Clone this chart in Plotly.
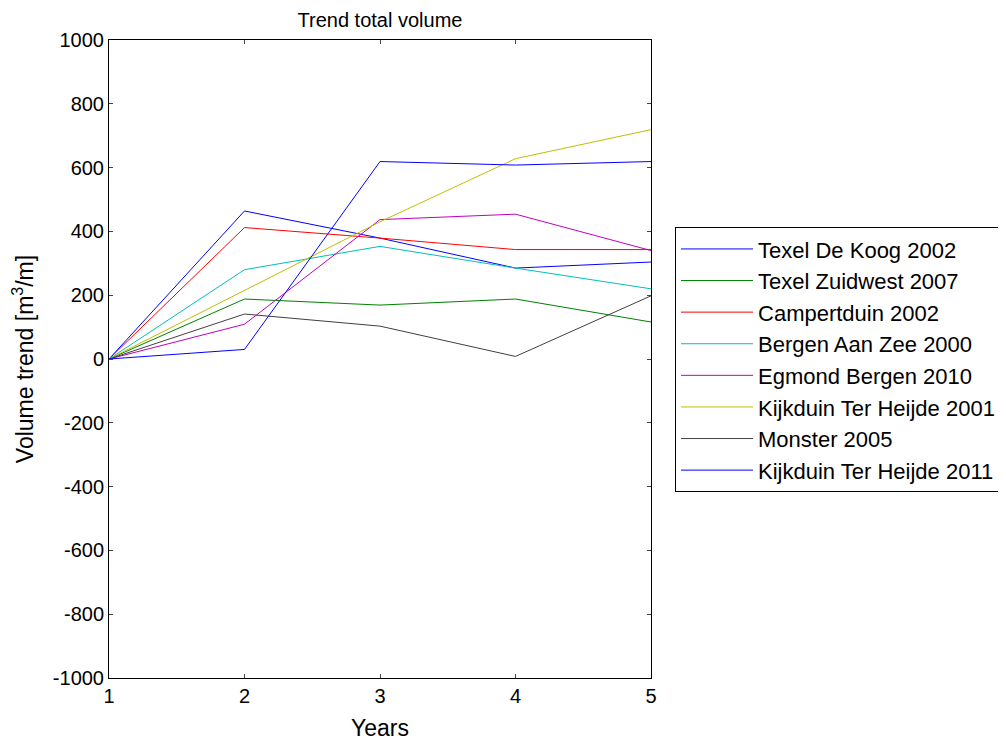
import plotly.graph_objects as go

years = [1, 2, 3, 4, 5]
names = ["Texel De Koog 2002", "Texel Zuidwest 2007", "Campertduin 2002",
         "Bergen Aan Zee 2000", "Egmond Bergen 2010", "Kijkduin Ter Heijde 2001",
         "Monster 2005", "Kijkduin Ter Heijde 2011"]
texel_de_koog_2002 = [0, 464, 379, 285, 304]
texel_zuidwest_2007 = [0, 188, 169, 188, 116]
campertduin_2002 = [0, 412, 379, 343, 343]
bergen_aan_zee_2000 = [0, 280, 353, 285, 220]
egmond_bergen_2010 = [0, 109, 437, 454, 340]
kijkduin_ter_heijde_2001 = [0, 216, 430, 628, 719]
monster_2005 = [0, 141, 103, 8, 198]
kijkduin_ter_heijde_2011 = [0, 30, 619, 608, 619]
series = [texel_de_koog_2002, texel_zuidwest_2007, campertduin_2002, bergen_aan_zee_2000,
          egmond_bergen_2010, kijkduin_ter_heijde_2001, monster_2005, kijkduin_ter_heijde_2011]
colors = ["#0000ff", "#008000", "#ff0000", "#00bfbf", "#bf00bf", "#bfbf00", "#404040", "#0000ff"]
y_ticks = list(range(-1000, 1001, 200))
y_ticktext = [str(v) for v in y_ticks]

fig = go.Figure()
for i, (n, s, c) in enumerate(zip(names, series, colors)):
    fig.add_trace(go.Scatter(x=years, y=s, name=n, mode="lines",
                             line=dict(color=c, width=1), legendgroup=f"g{i}"))

font = "Liberation Sans, Arial, sans-serif"
fig.update_layout(
    width=1006, height=745,
    paper_bgcolor="white", plot_bgcolor="white",
    margin=dict(l=101, r=363, t=32, b=75),
    font=dict(family=font, size=19, color="black"),
    title=dict(text="Trend total volume", x=0.3698, xanchor="center",
               y=1 - 12 / 745, yanchor="middle", font=dict(size=20)),
    showlegend=True,
    legend=dict(x=1.0443, xanchor="left", y=0.499, yanchor="middle",
                bordercolor="black", borderwidth=1, bgcolor="white",
                font=dict(size=22), tracegroupgap=0, itemwidth=72),
    xaxis=dict(range=[1, 5], tickvals=years, ticks="inside", ticklen=4,
               showline=True, linecolor="black", linewidth=1, mirror="ticks",
               showgrid=False, zeroline=False, tickfont=dict(size=20),
               title=dict(text="Years", standoff=13)),
    yaxis=dict(range=[-1000, 1000], tickvals=y_ticks, ticktext=y_ticktext,
               ticks="inside", ticklen=4, tickfont=dict(size=20),
               showline=True, linecolor="black", linewidth=1, mirror="ticks",
               showgrid=False, zeroline=False,
               title=dict(text="Volume trend [m<sup>3</sup>/m]", standoff=16)),
)
fig.write_html("out.html", config={"displayModeBar": False})
